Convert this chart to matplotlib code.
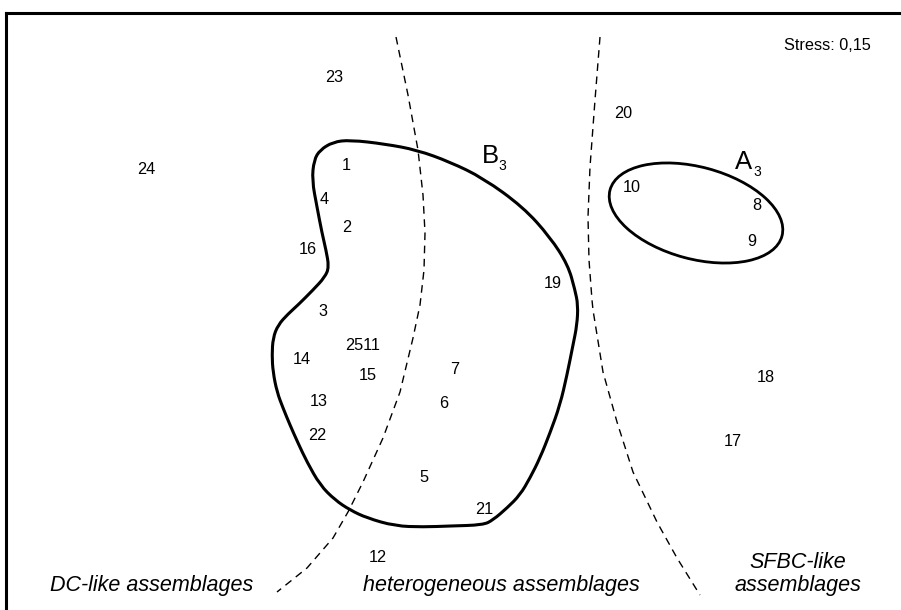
import matplotlib
matplotlib.use("Agg")
import matplotlib.pyplot as plt
from matplotlib.patches import Ellipse, PathPatch
from matplotlib.path import Path

plt.rcParams.update({
    "font.family": ["Liberation Sans", "DejaVu Sans"],
})

# site labels and their ordination positions (plot units, y runs downward)
sites = ["23", "24", "1", "4", "2", "16", "3", "2511", "14", "15", "13", "22",
         "5", "12", "7", "6", "21", "19", "20", "10", "8", "9", "18", "17"]
site_x = [334, 146, 346, 324, 347, 308, 323, 363, 302, 368, 319, 317,
          424, 378, 455, 444, 484, 553, 623, 632, 757, 752, 766, 733]
site_y = [77, 170, 166, 199, 228, 250, 311, 345, 359, 376, 402, 435,
          478, 557, 369, 404, 510, 284, 114, 188, 206, 241, 378, 441]

# hand-drawn outline of group B3 (control points)
b3_x = [333, 350, 385, 417, 450, 483, 523, 550, 568, 575, 578, 577, 573, 567,
        560, 550, 540, 530, 520, 507, 493, 483, 450, 423, 395, 367, 350, 335,
        320, 307, 298, 290, 283, 277, 273, 272, 273, 278, 288, 298, 313, 325,
        329, 326, 322, 317, 312, 314, 320]
b3_y = [142, 140, 144, 150, 162, 178, 207, 237, 265, 290, 305, 325, 345, 375,
        405, 433, 458, 478, 495, 508, 520, 525, 526, 527, 526, 518, 510, 500,
        485, 462, 443, 425, 408, 392, 372, 355, 338, 325, 314, 305, 290, 277,
        267, 250, 233, 207, 180, 160, 150]

# group A3 ellipse: centre, axes and tilt
a3_center = (696, 213)
a3_width, a3_height, a3_angle = 178, 92, 15

# dashed boundaries between assemblage types
left_x = [396, 408, 418, 423, 425, 424, 420, 413, 400, 383, 363, 348, 333, 307, 277]
left_y = [37, 95, 150, 195, 233, 270, 305, 338, 392, 438, 482, 512, 538, 568, 592]
right_x = [600, 595, 590, 588, 589, 592, 593, 603, 617, 633, 657, 677, 700]
right_y = [37, 100, 167, 217, 260, 300, 310, 372, 422, 472, 522, 558, 595]


def smooth_closed_path(xs, ys):
    # quadratic B-spline: midpoints on the curve, vertices as controls
    pts = list(zip(xs, ys))
    n = len(pts)
    mids = [((pts[i][0] + pts[(i + 1) % n][0]) / 2,
             (pts[i][1] + pts[(i + 1) % n][1]) / 2) for i in range(n)]
    verts = [mids[-1]]
    codes = [Path.MOVETO]
    for i in range(n):
        verts += [pts[i], mids[i]]
        codes += [Path.CURVE3, Path.CURVE3]
    return Path(verts, codes)


fig = plt.figure(figsize=(9.01, 6.10), dpi=100)
ax = fig.add_axes([6 / 901, 0, 895 / 901, 597 / 610])
ax.set_xlim(6, 901)
ax.set_ylim(610, 13)
for side in ["right", "bottom"]:
    ax.spines[side].set_visible(False)
for side in ["left", "top"]:
    ax.spines[side].set_linewidth(2.2)
ax.set_xticks([])
ax.set_yticks([])

ax.plot(left_x, left_y, color="black", lw=1.0, ls=(0, (5.5, 4)))
ax.plot(right_x, right_y, color="black", lw=1.0, ls=(0, (5.5, 4)))

ax.add_patch(PathPatch(smooth_closed_path(b3_x, b3_y), fill=False,
                       ec="black", lw=2.2))
ax.add_patch(Ellipse(a3_center, a3_width, a3_height, angle=a3_angle,
                     fill=False, ec="black", lw=2.0))

for name, x, y in zip(sites, site_x, site_y):
    ax.text(x, y, name, fontsize=11.7, ha="center", va="center")

# group names with subscripts
ax.text(490, 156, "B", fontsize=18.5, ha="center", va="center")
ax.text(502.5, 166, "3", fontsize=10, ha="center", va="center")
ax.text(744, 162, "A", fontsize=18.5, ha="center", va="center")
ax.text(757.5, 172, "3", fontsize=10, ha="center", va="center")
ax.text(871, 45, "Stress: 0,15", fontsize=11.7, ha="right", va="center")

ax.text(152, 586, "DC-like assemblages", fontsize=15.5, style="italic",
        ha="center", va="center")
ax.text(501, 586, "heterogeneous assemblages", fontsize=15.5, style="italic",
        ha="center", va="center")
ax.text(798, 574, "SFBC-like\nassemblages", fontsize=15.5, style="italic",
        ha="center", va="center", linespacing=1.1)

fig.savefig("out.png", dpi=100)
